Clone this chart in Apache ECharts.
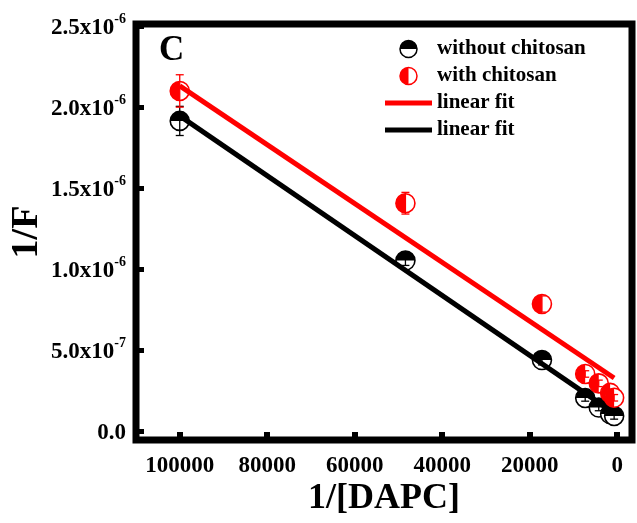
<!DOCTYPE html>
<html>
<head>
<meta charset="utf-8">
<script src="https://cdn.jsdelivr.net/npm/echarts@6/dist/echarts.min.js"></script>
<style>
  html, body { margin: 0; padding: 0; background: #fff; }
  #chart { width: 637px; height: 523px; }
</style>
</head>
<body>
<div id="chart"></div>
<script>
// 1/[DAPC] values shared by both sample sets
const dapcInv = [100000, 48400, 17190, 7300, 4200, 1600, 685];

// 1/F without chitosan, with its error bars
const noChitosanY = [1.914e-6, 1.052e-6, 0.438e-6, 0.204e-6, 0.145e-6, 0.105e-6, 0.093e-6];
const noChitosanErr = [0.09e-6, 0.03e-6, 0.03e-6, 0.02e-6, 0.02e-6, 0.02e-6, 0.02e-6];

// 1/F with chitosan, with its error bars
const chitosanY = [2.099e-6, 1.406e-6, 0.784e-6, 0.352e-6, 0.294e-6, 0.235e-6, 0.205e-6];
const chitosanErr = [0.10e-6, 0.067e-6, 0.05e-6, 0.02e-6, 0.02e-6, 0.02e-6, 0.02e-6];

// Linear fit end points [1/[DAPC], 1/F]
const fitChitosanX = [100000, 685];
const fitChitosanY = [2.13e-6, 0.327e-6];
const fitNoChitosanX = [100000, 685];
const fitNoChitosanY = [1.945e-6, 0.11e-6];

// Axis ticks
const xTicks = [0, 20000, 40000, 60000, 80000, 100000];
const yTicks = [0, 5e-7, 1e-6, 1.5e-6, 2e-6, 2.5e-6];
const yTickMantissa = ['0.0', '5.0x10', '1.0x10', '1.5x10', '2.0x10', '2.5x10'];
const yTickExponent = ['', '-7', '-6', '-6', '-6', '-6'];

const FONT = '"Liberation Serif", "Times New Roman", serif';
const RED = '#ff0000';
const BLACK = '#000000';
const MARKER_R = 9.5;

function zip3(xs, ys, es) {
  return xs.map((x, i) => [x, ys[i], es[i]]);
}
function zip2(xs, ys) {
  return xs.map((x, i) => [x, ys[i]]);
}

// Half-filled circle marker with a vertical error bar
function markerRenderer(color, filledHalf) {
  return function (params, api) {
    const x = api.value(0), y = api.value(1), e = api.value(2);
    const c = api.coord([x, y]);
    const top = api.coord([x, y + e]);
    const bot = api.coord([x, y - e]);
    const r = MARKER_R;
    const cap = 4;
    let start, end;
    if (filledHalf === 'top') { start = Math.PI; end = 2 * Math.PI; }
    else { start = Math.PI / 2; end = 3 * Math.PI / 2; }
    const lineStyle = { stroke: color, lineWidth: 1.3, fill: null };
    return {
      type: 'group',
      children: [
        { type: 'circle', shape: { cx: c[0], cy: c[1], r: r },
          style: { fill: '#fff', stroke: color, lineWidth: 1.6 } },
        { type: 'sector', shape: { cx: c[0], cy: c[1], r: r, r0: 0, startAngle: start, endAngle: end, clockwise: true },
          style: { fill: color } },
        { type: 'line', shape: { x1: top[0], y1: top[1], x2: bot[0], y2: bot[1] }, style: lineStyle },
        { type: 'line', shape: { x1: top[0] - cap, y1: top[1], x2: top[0] + cap, y2: top[1] }, style: lineStyle },
        { type: 'line', shape: { x1: bot[0] - cap, y1: bot[1], x2: bot[0] + cap, y2: bot[1] }, style: lineStyle }
      ]
    };
  };
}

// Legend icons, 47 x 20 boxes
function markerIcon(color, filledHalf) {
  const half = filledHalf === 'top'
    ? "M15 10 A8.5 8.5 0 0 1 32 10 Z"
    : "M23.5 1.5 A8.5 8.5 0 0 0 23.5 18.5 Z";
  const svg = "<svg xmlns='http://www.w3.org/2000/svg' width='47' height='20' viewBox='0 0 47 20'>" +
    "<circle cx='23.5' cy='10' r='8.5' fill='white' stroke='" + color + "' stroke-width='1.5'/>" +
    "<path d='" + half + "' fill='" + color + "'/></svg>";
  return 'image://data:image/svg+xml;charset=utf-8,' + encodeURIComponent(svg);
}
function lineIcon(color) {
  const svg = "<svg xmlns='http://www.w3.org/2000/svg' width='47' height='20' viewBox='0 0 47 20'>" +
    "<rect x='0' y='7.5' width='47' height='5' fill='" + color + "'/></svg>";
  return 'image://data:image/svg+xml;charset=utf-8,' + encodeURIComponent(svg);
}

const chart = echarts.init(document.getElementById('chart'));

chart.setOption({
  backgroundColor: '#fff',
  animation: false,
  grid: {
    left: 136, right: 5, top: 24, bottom: 83,
    outerBoundsMode: 'none',
    containLabel: false,
    show: true, borderColor: BLACK, borderWidth: 7, backgroundColor: 'transparent'
  },
  legend: {
    orient: 'vertical',
    left: 385, top: 38.5,
    padding: 0,
    itemWidth: 47, itemHeight: 20, itemGap: 6,
    textStyle: { fontFamily: FONT, fontWeight: 'bold', fontSize: 21, color: BLACK },
    formatter: function (name) { return name.indexOf('linear fit') === 0 ? 'linear fit' : name; },
    data: [
      { name: 'without chitosan', icon: markerIcon(BLACK, 'top') },
      { name: 'with chitosan', icon: markerIcon(RED, 'left') },
      { name: 'linear fit (with chitosan)', icon: lineIcon(RED) },
      { name: 'linear fit (without chitosan)', icon: lineIcon(BLACK) }
    ]
  },
  graphic: [
    { type: 'text', left: 159, top: 33,
      style: { text: 'C', fontFamily: FONT, fontWeight: 'bold', fontSize: 35, fill: BLACK } },
    // y axis title, rotated to read bottom to top
    { type: 'text', x: 27, y: 232, rotation: Math.PI / 2,
      style: { text: '1/F', fontFamily: FONT, fontWeight: 'bold', fontSize: 38, fill: BLACK,
               align: 'center', verticalAlign: 'middle' } }
  ],
  xAxis: {
    type: 'value',
    inverse: true,
    min: -3400, max: 110000,
    name: '1/[DAPC]',
    nameLocation: 'middle',
    nameGap: 41,
    nameMoveOverlap: false,
    nameTextStyle: { fontFamily: FONT, fontWeight: 'bold', fontSize: 36, color: BLACK },
    axisLine: { show: false, onZero: false },
    splitLine: { show: false },
    axisTick: { show: true, inside: true, length: 8, lineStyle: { width: 6, color: BLACK }, customValues: xTicks },
    axisLabel: {
      customValues: xTicks,
      margin: 15,
      fontFamily: FONT, fontWeight: 'bold', fontSize: 23, color: BLACK,
      formatter: function (v) { return String(Math.round(v)); }
    }
  },
  yAxis: {
    type: 'value',
    min: -0.0556e-6, max: 2.5123e-6,
    axisLine: { show: false, onZero: false },
    splitLine: { show: false },
    axisTick: { show: true, inside: true, length: 8, lineStyle: { width: 5, color: BLACK }, customValues: yTicks },
    axisLabel: {
      customValues: yTicks,
      margin: 10,
      formatter: function (v) {
        let best = 0;
        yTicks.forEach((t, i) => { if (Math.abs(t - v) < Math.abs(yTicks[best] - v)) best = i; });
        const exp = yTickExponent[best];
        return exp ? '{m|' + yTickMantissa[best] + '}{e|' + exp + '}' : '{m|' + yTickMantissa[best] + '}';
      },
      rich: {
        m: { fontFamily: FONT, fontWeight: 'bold', fontSize: 23, color: BLACK, verticalAlign: 'bottom', lineHeight: 28 },
        e: { fontFamily: FONT, fontWeight: 'bold', fontSize: 14, color: BLACK, verticalAlign: 'top', lineHeight: 14 }
      }
    }
  },
  series: [
    {
      name: 'without chitosan',
      type: 'custom',
      renderItem: markerRenderer(BLACK, 'top'),
      data: zip3(dapcInv, noChitosanY, noChitosanErr),
      encode: { x: 0, y: 1 },
      itemStyle: { color: BLACK },
      z: 2
    },
    {
      name: 'linear fit (without chitosan)',
      type: 'line',
      data: zip2(fitNoChitosanX, fitNoChitosanY),
      symbol: 'none',
      lineStyle: { color: BLACK, width: 5 },
      itemStyle: { color: BLACK },
      z: 3
    },
    {
      name: 'with chitosan',
      type: 'custom',
      renderItem: markerRenderer(RED, 'left'),
      data: zip3(dapcInv, chitosanY, chitosanErr),
      encode: { x: 0, y: 1 },
      itemStyle: { color: RED },
      z: 4
    },
    {
      name: 'linear fit (with chitosan)',
      type: 'line',
      data: zip2(fitChitosanX, fitChitosanY),
      symbol: 'none',
      lineStyle: { color: RED, width: 5 },
      itemStyle: { color: RED },
      z: 5
    }
  ]
});
</script>
</body>
</html>
